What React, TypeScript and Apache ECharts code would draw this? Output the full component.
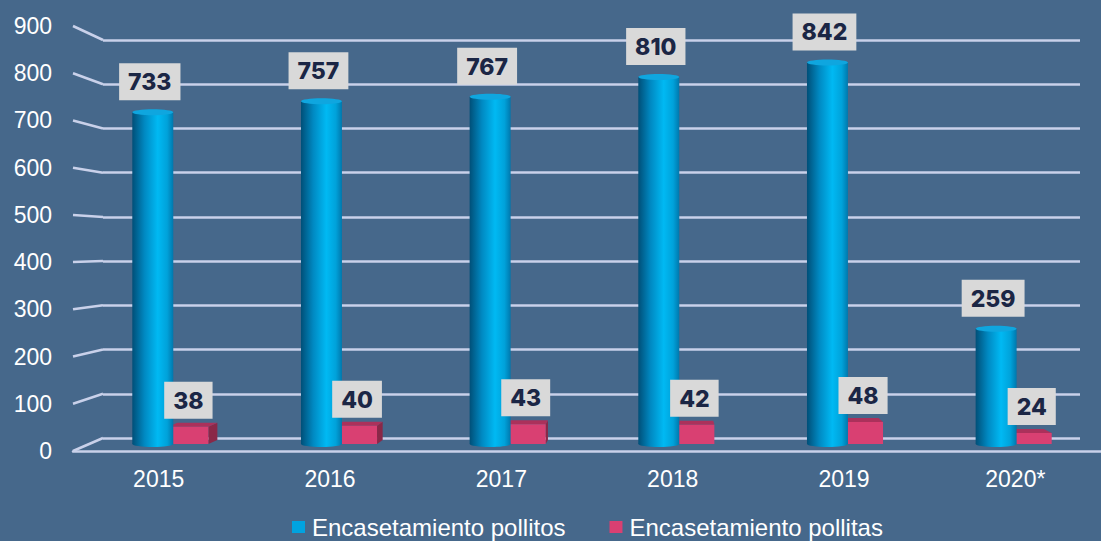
import React, { useEffect, useRef } from 'react';
import * as echarts from 'echarts';

const categories = ['2015', '2016', '2017', '2018', '2019', '2020*'];
const pollitos = [733, 757, 767, 810, 842, 259];
const pollitas = [38, 40, 43, 42, 48, 24];
const yTicks = [0, 100, 200, 300, 400, 500, 600, 700, 800, 900];
const seriesNames = ['Encasetamiento pollitos', 'Encasetamiento pollitas'];

const BG = '#46688b';
const GRID_COLOR = '#c9d1ea';
const LABEL_FONT = 'Liberation Sans, Arial, sans-serif';

export default function App() {
  const ref = useRef<HTMLDivElement>(null);

  useEffect(() => {
    if (!ref.current) return;
    const chart = echarts.init(ref.current, undefined, { renderer: 'svg' });

    const cylGrad = () =>
      new echarts.graphic.LinearGradient(0, 0, 1, 0, [
        { offset: 0, color: '#004f78' },
        { offset: 0.3, color: '#0089c2' },
        { offset: 0.62, color: '#00b9f3' },
        { offset: 0.85, color: '#00a2da' },
        { offset: 1, color: '#0078ad' },
      ]);

    const cylGeom = (api: any) => {
      const idx = api.value(0);
      const v = api.value(1);
      const top = api.coord([idx, v]);
      const base = api.coord([idx, 0]);
      const band = api.size([1, 0])[0];
      const cx = top[0] - 0.104 * band;
      const w = 0.243 * band;
      return { top, base, cx, w };
    };
    const boxGeom = (api: any) => {
      const idx = api.value(0);
      const v = api.value(1);
      const top = api.coord([idx, v]);
      const base = api.coord([idx, 0]);
      const band = api.size([1, 0])[0];
      const cx = top[0] + 0.107 * band;
      const w = 0.237 * band;
      return { top, base, cx, w };
    };

    const labelText = (cx: number, y: number, v: number) => ({
      type: 'text',
      x: cx,
      y: y,
      style: {
        text: String(v),
        fill: '#1b2645',
        fontSize: 23,
        fontWeight: 800,
        fontFamily: 'Inter, Open Sans, sans-serif',
        lineHeight: 24,
        backgroundColor: '#d9d9d9',
        padding: [7, 9, 6, 9],
        align: 'center',
        verticalAlign: 'bottom',
      },
    });

    chart.setOption({
      animation: false,
      backgroundColor: BG,
      grid: [
        { left: 103, top: 40, width: 977, height: 398 },
        { left: 73, top: 26, width: 1043, height: 425 },
        { left: 86, top: 33, width: 1012, height: 411 },
      ],
      xAxis: [
        { type: 'value', gridIndex: 0, min: 0, max: 1, show: false },
        {
          type: 'category',
          gridIndex: 1,
          data: categories,
          axisLine: { show: true, lineStyle: { color: GRID_COLOR, width: 2.5 } },
          axisTick: { show: false },
          axisLabel: { color: '#ffffff', fontSize: 23, fontFamily: LABEL_FONT, margin: 16 },
          splitLine: { show: false },
        },
        { type: 'category', gridIndex: 2, data: categories, show: false },
        { type: 'value', gridIndex: 1, min: 0, max: 1, show: false },
      ],
      yAxis: [
        {
          type: 'value',
          gridIndex: 0,
          min: 0,
          max: 900,
          interval: 100,
          axisLine: { show: false },
          axisTick: { show: false },
          axisLabel: { show: false },
          splitLine: { show: true, lineStyle: { color: GRID_COLOR, width: 2.5 } },
        },
        {
          type: 'value',
          gridIndex: 1,
          min: 0,
          max: 900,
          interval: 100,
          axisLine: { show: false },
          axisTick: { show: false },
          axisLabel: { color: '#ffffff', fontSize: 23, fontFamily: LABEL_FONT, margin: 21 },
          splitLine: { show: false },
        },
        { type: 'value', gridIndex: 2, min: 0, max: 900, interval: 100, show: false },
      ],
      legend: {
        data: seriesNames,
        icon: 'rect',
        itemWidth: 13,
        itemHeight: 12,
        itemGap: 44,
        left: 292,
        top: 515,
        padding: 0,
        textStyle: { color: '#ffffff', fontSize: 24, fontFamily: LABEL_FONT, padding: [0, 0, 0, 2] },
      },
      series: [
        {
          type: 'custom',
          name: seriesNames[1],
          xAxisIndex: 2,
          yAxisIndex: 2,
          z: 2,
          itemStyle: { color: '#d94072' },
          data: categories.map((_, i) => [i, pollitas[i]]),
          encode: { x: 0, y: 1 },
          renderItem: (params: any, api: any) => {
            const { top, base, cx, w } = boxGeom(api);
            const x0 = cx - w / 2;
            const x1 = cx + w / 2;
            const yT = top[1];
            const yB = base[1];
            const dx = 0.02 * (api.getWidth() * 0.58 - cx);
            const dy = -4;
            const sideX = dx > 0 ? x1 : x0;
            return {
              type: 'group',
              children: [
                {
                  type: 'polygon',
                  shape: { points: [[sideX, yT], [sideX + dx, yT + dy], [sideX + dx, yB + dy], [sideX, yB]] },
                  style: { fill: '#8a2848' },
                },
                {
                  type: 'polygon',
                  shape: { points: [[x0, yT], [x1, yT], [x1 + dx, yT + dy], [x0 + dx, yT + dy]] },
                  style: { fill: '#ab315b' },
                },
                {
                  type: 'rect',
                  shape: { x: x0, y: yT, width: w, height: yB - yT },
                  style: { fill: '#d94072' },
                },
              ],
            };
          },
        },
        {
          type: 'custom',
          name: seriesNames[0],
          xAxisIndex: 2,
          yAxisIndex: 2,
          z: 3,
          itemStyle: { color: '#00a3e0' },
          data: categories.map((_, i) => [i, pollitos[i]]),
          encode: { x: 0, y: 1 },
          renderItem: (params: any, api: any) => {
            const { top, base, cx, w } = cylGeom(api);
            const ry = 3;
            return {
              type: 'group',
              children: [
                {
                  type: 'rect',
                  shape: { x: cx - w / 2, y: top[1] + ry, width: w, height: base[1] - top[1] - ry },
                  style: { fill: cylGrad() },
                },
                {
                  type: 'ellipse',
                  shape: { cx, cy: base[1], rx: w / 2, ry },
                  style: { fill: cylGrad() },
                },
                {
                  type: 'ellipse',
                  shape: { cx, cy: top[1] + ry, rx: w / 2, ry },
                  style: { fill: '#0fa6df' },
                },
              ],
            };
          },
        },
        {
          type: 'custom',
          name: 'labels-pollitos',
          xAxisIndex: 2,
          yAxisIndex: 2,
          z: 10,
          data: categories.map((_, i) => [i, pollitos[i]]),
          encode: { x: 0, y: 1 },
          renderItem: (params: any, api: any) => {
            const { top, cx } = cylGeom(api);
            return labelText(cx - 3, top[1] - 9, api.value(1));
          },
        },
        {
          type: 'custom',
          name: 'labels-pollitas',
          xAxisIndex: 2,
          yAxisIndex: 2,
          z: 10,
          data: categories.map((_, i) => [i, pollitas[i]]),
          encode: { x: 0, y: 1 },
          renderItem: (params: any, api: any) => {
            const { top, cx } = boxGeom(api);
            return labelText(cx, top[1] - 8, api.value(1));
          },
        },
      ],
    });

    // Perspective connectors from the front tick positions to the back wall gridlines
    const xFront = chart.convertToPixel({ xAxisIndex: 3 }, 0) as number;
    const xBack = chart.convertToPixel({ xAxisIndex: 0 }, 0) as number;
    const stubs = yTicks.map((v) => {
      const yf = chart.convertToPixel({ yAxisIndex: 1 }, v) as number;
      const yb = chart.convertToPixel({ yAxisIndex: 0 }, v) as number;
      return {
        type: 'line',
        shape: { x1: xFront, y1: yf, x2: xBack, y2: yb },
        style: { stroke: GRID_COLOR, lineWidth: 2.5 },
        z: 1,
      };
    });
    chart.setOption({ graphic: { elements: stubs } });

    return () => chart.dispose();
  }, []);

  return <div ref={ref} style={{ position: 'fixed', left: 0, top: 0, width: 1101, height: 541 }} />;
}
